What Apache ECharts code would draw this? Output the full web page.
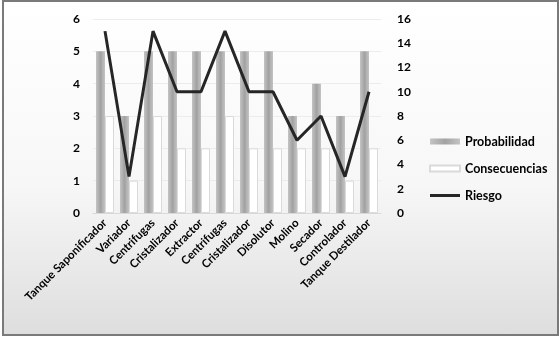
<!DOCTYPE html>
<html>
<head>
<meta charset="utf-8">
<script src="https://cdn.jsdelivr.net/npm/echarts@6/dist/echarts.min.js"></script>
<style>
  html, body { margin: 0; padding: 0; background: #fff; }
  .frame {
    position: absolute; left: 2px; top: 0; width: 553px; height: 332px;
    border: 2px solid #7a7a7a;
    background: linear-gradient(to bottom, #ffffff 0%, #f7f7f7 55%, #dedede 100%);
  }
  #main { position: absolute; left: 0; top: 0; width: 559px; height: 340px; }
</style>
</head>
<body>
<div class="frame"></div>
<div id="main"></div>
<script>
  // categorias y valores
  const categorias = ['Tanque Saponificador', 'Variador', 'Centrifugas', 'Cristalizador', 'Extractor',
    'Centrifugas', 'Cristalizador', 'Disolutor', 'Molino', 'Secador', 'Controlador', 'Tanque Destilador'];
  const probabilidad = [5, 3, 5, 5, 5, 5, 5, 5, 3, 4, 3, 5];
  const consecuencias = [3, 1, 3, 2, 2, 3, 2, 2, 2, 2, 1, 2];
  const riesgo = [15, 3, 15, 10, 10, 15, 10, 10, 6, 8, 3, 10];

  let myChart = echarts.init(document.getElementById('main'));
  const fuente = 'Lato, "Open Sans", sans-serif';

  // barra gris con bordes difuminados
  const grisBarra = {
    type: 'linear', x: 0, y: 0, x2: 1, y2: 0,
    colorStops: [
      { offset: 0, color: '#c4c4c4' },
      { offset: 0.5, color: '#a2a2a2' },
      { offset: 1, color: '#c4c4c4' }
    ]
  };

  let option = {
    animation: false,
    textStyle: { fontFamily: fuente },
    grid: { left: 93, right: 178, top: 19, bottom: 127 },
    legend: {
      orient: 'vertical',
      left: 424,
      top: 130,
      itemGap: 14,
      itemWidth: 30,
      itemHeight: 6,
      textStyle: { fontFamily: fuente, fontWeight: 'bold', fontSize: 12.5, color: '#000' },
      data: [
        { name: 'Probabilidad', icon: 'rect' },
        { name: 'Consecuencias', icon: 'rect' },
        { name: 'Riesgo', icon: 'path://M0,0 L30,0 L30,3 L0,3 Z' }
      ]
    },
    xAxis: {
      type: 'category',
      data: categorias,
      axisLine: { show: true, lineStyle: { color: '#d9d9d9' } },
      axisTick: { show: false },
      axisLabel: {
        interval: 0,
        rotate: 45,
        margin: 8,
        fontFamily: fuente,
        fontWeight: 'bold',
        fontSize: 11.5,
        color: '#000'
      }
    },
    yAxis: [
      {
        type: 'value', min: 0, max: 6, interval: 1,
        axisLine: { show: false }, axisTick: { show: false },
        axisLabel: { margin: 13, fontFamily: fuente, fontWeight: 'bold', fontSize: 12, color: '#000' },
        splitLine: { show: true, lineStyle: { color: '#ececec' } }
      },
      {
        type: 'value', min: 0, max: 16, interval: 2,
        axisLine: { show: false }, axisTick: { show: false },
        axisLabel: { margin: 16, fontFamily: fuente, fontWeight: 'bold', fontSize: 12, color: '#000' },
        splitLine: { show: false }
      }
    ],
    series: [
      {
        name: 'Probabilidad',
        type: 'bar',
        data: probabilidad,
        barWidth: 9,
        barGap: '0%',
        itemStyle: { color: grisBarra }
      },
      {
        name: 'Consecuencias',
        type: 'bar',
        data: consecuencias,
        barWidth: 9,
        itemStyle: { color: '#ffffff', borderColor: '#dadada', borderWidth: 1 }
      },
      {
        name: 'Riesgo',
        type: 'line',
        yAxisIndex: 1,
        data: riesgo,
        symbol: 'none',
        lineStyle: { color: '#262626', width: 3 },
        itemStyle: { color: '#262626' }
      }
    ]
  };
  myChart.setOption(option);
</script>
</body>
</html>
